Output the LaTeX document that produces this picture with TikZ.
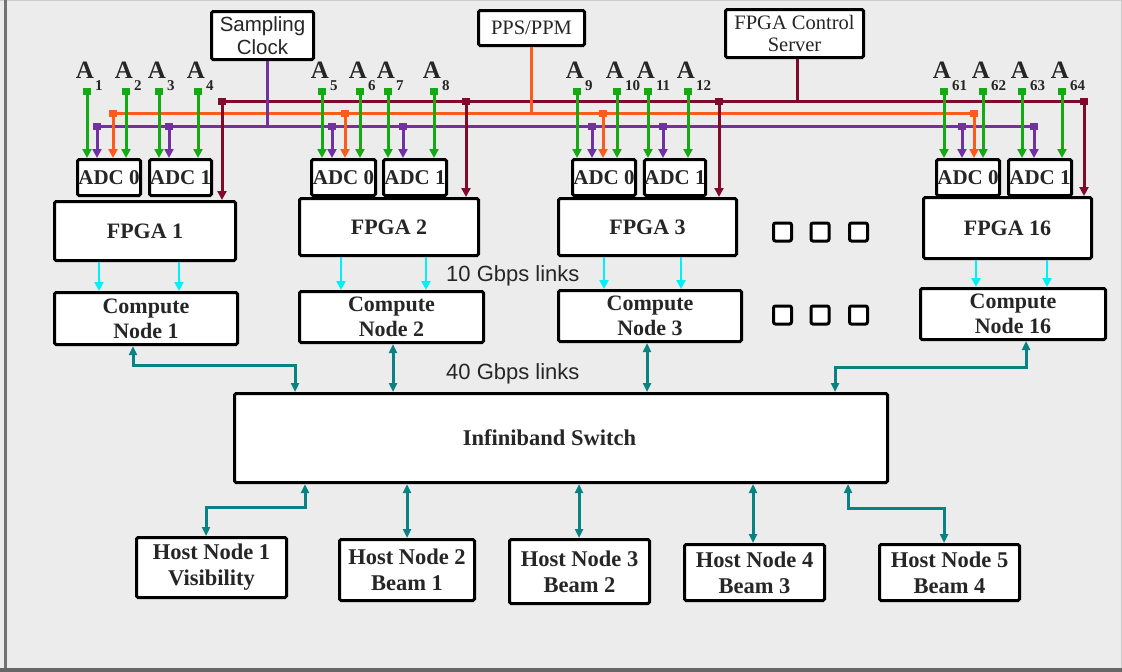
\documentclass[tikz,border=0pt]{standalone}
\usepackage{fontspec}
\setmainfont{Liberation Serif}
\newfontfamily\sansf{Liberation Sans}
\usetikzlibrary{arrows.meta,calc}
\definecolor{bg}{HTML}{ECECEC}
\definecolor{mar}{HTML}{7F0A2C}
\definecolor{org}{HTML}{FF5A1E}
\definecolor{pur}{HTML}{7231A2}
\definecolor{grn}{HTML}{14AA14}
\definecolor{cyn}{HTML}{00F0F8}
\definecolor{tel}{HTML}{088282}
\definecolor{txt}{HTML}{262626}
\newcommand\Alab[1]{A\rlap{\hspace{1pt}\raisebox{-12pt}{\fontsize{15}{15}\selectfont #1}}}
\newcommand\bx[7][]{\node[bxx,#1,minimum width={#4-#3-3},minimum height={#6-#5-3}] (#2) at ({(#3+#4)/2},{(#5+#6)/2}) {#7};}
\begin{document}
\begin{tikzpicture}[x=1pt,y=-1pt,
  bxx/.style={draw=black, line width=3pt, fill=white, rounded corners=1.5pt, inner sep=0pt, align=center, text=txt},
  sampbox/.style={font=\sansf\fontsize{20.5}{23}\selectfont},
  serbox/.style={font=\fontsize{20.5}{22}\selectfont},
  fpgabox/.style={font=\fontsize{22}{25}\selectfont\bfseries},
  adcbox/.style={font=\fontsize{21}{21}\selectfont\bfseries},
  cnbox/.style={font=\fontsize{22}{25}\selectfont\bfseries},
  swbox/.style={font=\fontsize{22.5}{25}\selectfont\bfseries},
  hostbox/.style={font=\fontsize{22.5}{26}\selectfont\bfseries},
  sqbox/.style={draw=black, line width=3pt, fill=white, rounded corners=2pt, minimum size=18pt, inner sep=0pt},
  alab/.style={font=\fontsize{25}{25}\selectfont\bfseries, text=txt, inner sep=0pt, anchor=base},
  slab/.style={font=\sansf\fontsize{22}{22}\selectfont, text=txt, inner sep=0pt, anchor=west},
  busm/.style={mar, line width=3pt},
  buso/.style={org, line width=3pt},
  busp/.style={pur, line width=3pt},
  tips/.style={{Square[length=7pt,width=8pt]}-{Triangle[length=9pt,width=9pt]}},
  garr/.style={grn, line width=3pt, tips},
  parr/.style={pur, line width=3pt, tips},
  oarr/.style={org, line width=3pt, tips},
  marr/.style={mar, line width=3pt, tips},
  carr/.style={cyn, line width=2.5pt, -{Triangle[length=9pt,width=9pt]}},
  tarr/.style={tel, line width=3pt, {Triangle[length=9pt,width=8pt]}-{Triangle[length=9pt,width=8pt]}}
]
\fill[bg] (0,0) rectangle (1122,672);
\useasboundingbox (0,0) rectangle (1122,672);
\draw[line width=1pt, black!20] (0,0.5) -- (1122,0.5);
\draw[line width=1pt, black!20] (1121.5,0) -- (1121.5,672);
\draw[line width=3pt, black!55] (5.5,0) -- (5.5,672);
\draw[line width=4pt, black!60] (0,670) -- (1122,670);

% sources
\bx[sampbox]{samp}{210}{315}{10}{61}{Sampling\\Clock}
\bx[serbox]{pps}{477}{586}{9}{47}{PPS/PPM}
\bx[serbox]{ctrl}{724}{865}{8}{59}{FPGA Control\\Server}

% buses
\coordinate (mL) at (222,101); \coordinate (mR) at (1084,101);
\coordinate (oL) at (113,113); \coordinate (oR) at (975,113);
\coordinate (pL) at (97,126);  \coordinate (pR) at (1034,126);
\draw[busm] (mL) -- (mR);
\draw[buso] (oL) -- (oR);
\draw[busp] (pL) -- (pR);
\coordinate (sj) at (267,126); \draw[busp] (samp.south -| sj) -- (sj);
\coordinate (pj) at (531,113); \draw[buso] (pps.south -| pj) -- (pj);
\coordinate (cj) at (797,101); \draw[busm] (ctrl.south -| cj) -- (cj);

% group boxes
\bx[fpgabox]{fpga1}{53}{237}{200}{262}{FPGA 1}
\bx[adcbox]{adc1a}{76}{142}{158}{197}{ADC 0}
\bx[adcbox]{adc1b}{148}{213}{158}{197}{ADC 1}
\bx[cnbox]{cn1}{53}{239}{291}{346}{Compute\\Node 1}

\bx[fpgabox]{fpga2}{298}{480}{197}{257}{FPGA 2}
\bx[adcbox]{adc2a}{310}{377}{158}{197}{ADC 0}
\bx[adcbox]{adc2b}{382}{448}{158}{197}{ADC 1}
\bx[cnbox]{cn2}{298}{485}{290}{344}{Compute\\Node 2}

\bx[fpgabox]{fpga3}{557}{738}{197}{257}{FPGA 3}
\bx[adcbox]{adc3a}{571}{637}{158}{197}{ADC 0}
\bx[adcbox]{adc3b}{643}{707}{158}{197}{ADC 1}
\bx[cnbox]{cn3}{557}{743}{289}{343}{Compute\\Node 3}

\bx[fpgabox]{fpga16}{922}{1093}{196}{260}{FPGA 16}
\bx[adcbox]{adc16a}{935}{1001}{158}{197}{ADC 0}
\bx[adcbox]{adc16b}{1007}{1073}{158}{197}{ADC 1}
\bx[cnbox]{cn16}{919}{1107}{287}{341}{Compute\\Node 16}

% antenna inputs
\foreach \x/\n/\t in {87/1/adc1a,126/2/adc1a,159/3/adc1b,198/4/adc1b,
  322/5/adc2a,360/6/adc2a,388/7/adc2b,434/8/adc2b,
  577/9/adc3a,617/10/adc3a,648/11/adc3b,688/12/adc3b,
  944/61/adc16a,983/62/adc16a,1022/63/adc16b,1062/64/adc16b}{
  \coordinate (g\n) at (\x,88);
  \node[alab] (A\n) at (\x-2,78) {\Alab{\n}};
  \draw[garr] (g\n) -- (g\n |- \t.north);
}
% clock branches
\foreach \x/\t in {97/adc1a,169/adc1b,332/adc2a,403/adc2b,592/adc3a,663/adc3b,962/adc16a,1034/adc16b}{
  \coordinate (p\x) at (\x,122.5);
  \draw[parr] (p\x) -- (p\x |- \t.north);
}
% PPS branches
\foreach \x/\t in {113/adc1a,345/adc2a,603/adc3a,974/adc16a}{
  \coordinate (o\x) at (\x,109.5);
  \draw[oarr] (o\x) -- (o\x |- \t.north);
}
% control branches
\foreach \x/\t in {222/fpga1,466/fpga2,719/fpga3,1084/fpga16}{
  \coordinate (m\x) at (\x,97.5);
  \draw[marr] (m\x) -- (m\x |- \t.north);
}
% 10 Gbps links
\foreach \x/\f/\c in {99/fpga1/cn1,179/fpga1/cn1,341/fpga2/cn2,426/fpga2/cn2,
  604/fpga3/cn3,681/fpga3/cn3,976/fpga16/cn16,1047/fpga16/cn16}{
  \coordinate (c\x) at (\x,0);
  \draw[carr] (\f.south -| c\x) -- (\c.north -| c\x);
}

% dots
\foreach \x [count=\i] in {782.5,820,858.5}{
  \node[sqbox] (sqa\i) at (\x,232) {};
  \node[sqbox] (sqb\i) at (\x,315) {};
}

\node[slab] (l10) at (446,276) {10 Gbps links};
\node[slab] (l40) at (446,374) {40 Gbps links};

% switch and hosts
\bx[swbox]{sw}{233}{889}{392}{484}{Infiniband Switch\hspace*{23pt}}
\bx[hostbox]{h1}{135}{288}{536}{599}{Host Node 1\\Visibility}
\bx[hostbox]{h2}{338}{476}{538}{602}{Host Node 2\\Beam 1}
\bx[hostbox]{h3}{508}{651}{538}{605}{Host Node 3\\Beam 2}
\bx[hostbox]{h4}{683}{826}{543}{602}{Host Node 4\\Beam 3}
\bx[hostbox]{h5}{878}{1021}{543}{602}{Host Node 5\\Beam 4}

% 40 Gbps links
\coordinate (t1a) at (133,0); \coordinate (t1b) at (295,365);
\draw[tarr] (cn1.south -| t1a) |- (t1b) -- (t1b |- sw.north);
\coordinate (t2) at (393,0);
\draw[tarr] (cn2.south -| t2) -- (sw.north -| t2);
\coordinate (t3) at (647,0);
\draw[tarr] (cn3.south -| t3) -- (sw.north -| t3);
\coordinate (t16a) at (1026,0); \coordinate (t16b) at (835,367);
\draw[tarr] (cn16.south -| t16a) |- (t16b) -- (t16b |- sw.north);

\coordinate (u1a) at (305,0); \coordinate (u1b) at (206,507);
\draw[tarr] (sw.south -| u1a) |- (u1b) -- (u1b |- h1.north);
\coordinate (u2) at (407,0);
\draw[tarr] (sw.south -| u2) -- (h2.north -| u2);
\coordinate (u3) at (579,0);
\draw[tarr] (sw.south -| u3) -- (h3.north -| u3);
\coordinate (u4) at (753,0);
\draw[tarr] (sw.south -| u4) -- (h4.north -| u4);
\coordinate (u5a) at (848,0); \coordinate (u5b) at (944,508);
\draw[tarr] (sw.south -| u5a) |- (u5b) -- (u5b |- h5.north);
\end{tikzpicture}
\end{document}
